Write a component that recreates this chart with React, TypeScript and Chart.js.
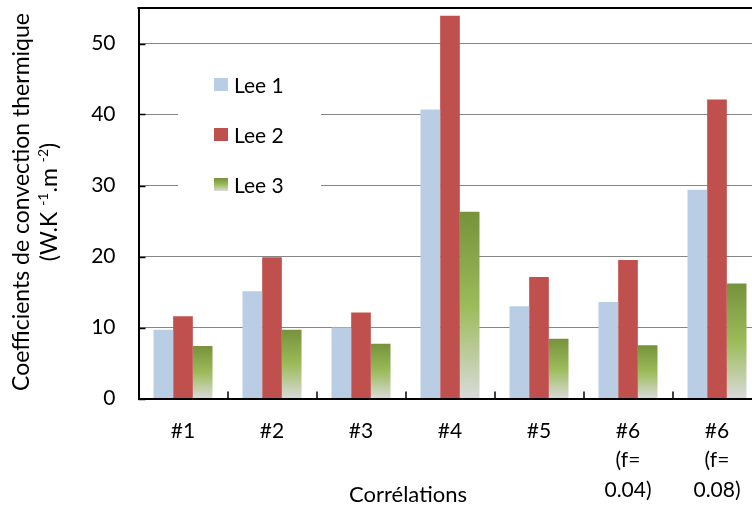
import React, { useEffect, useRef } from 'react';
import { Chart, registerables } from 'chart.js';

Chart.register(...registerables);

const categories: (string | string[])[] = ['#1', '#2', '#3', '#4', '#5', ['#6', '(f=', '0.04)'], ['#6', '(f=', '0.08)']];
const seriesNames = ['Lee 1', 'Lee 2', 'Lee 3'];
const lee1 = [9.7, 15.1, 10.0, 40.7, 13.0, 13.6, 29.4];
const lee2 = [11.6, 19.9, 12.1, 53.9, 17.1, 19.5, 42.1];
const lee3 = [7.4, 9.7, 7.7, 26.3, 8.4, 7.5, 16.2];
const yTickValues = [0, 10, 20, 30, 40, 50];
const yMin = 0;
const yMax = 55;
const yTitleLine1 = 'Coefficients de convection thermique';
const xTitle = 'Corrélations';

const FONT = 'Lato, "Open Sans", sans-serif';
const FS = 21;
const FS_YT = 23;
const FS_XT = 22;
const C_LEE1 = '#b9cde5';
const C_LEE2 = '#c0504d';

function greenGradient(ctx: CanvasRenderingContext2D, top: number, bottom: number) {
  const g = ctx.createLinearGradient(0, top, 0, bottom);
  g.addColorStop(0, '#76923c');
  g.addColorStop(0.5, '#9bbb59');
  g.addColorStop(1, '#dadada');
  return g;
}

const decorPlugin = {
  id: 'decor',
  afterDatasetsDraw(chart: any) {
    const ctx: CanvasRenderingContext2D = chart.ctx;
    const { chartArea } = chart;
    const y = chart.scales.y;
    const x = chart.scales.x;
    ctx.save();
    // top border
    ctx.strokeStyle = '#000';
    ctx.lineWidth = 2;
    ctx.beginPath();
    ctx.moveTo(chartArea.left - 1, chartArea.top);
    ctx.lineTo(chartArea.right, chartArea.top);
    ctx.stroke();
    // inside ticks y
    ctx.lineWidth = 1.5;
    yTickValues.forEach((v) => {
      const py = Math.round(y.getPixelForValue(v)) + 0.5;
      ctx.beginPath();
      ctx.moveTo(chartArea.left, py);
      ctx.lineTo(chartArea.left + 7, py);
      ctx.stroke();
    });
    // inside ticks x at category boundaries
    for (let i = 1; i < categories.length; i++) {
      const px = Math.round((x.getPixelForValue(i - 1) + x.getPixelForValue(i)) / 2);
      ctx.beginPath();
      ctx.moveTo(px, chartArea.bottom);
      ctx.lineTo(px, chartArea.bottom - 7);
      ctx.stroke();
    }
    // legend box
    ctx.fillStyle = '#fff';
    ctx.fillRect(178, 58, 143, 150);
    const legendYs = [85, 135, 185];
    ctx.font = `${FS}px ${FONT}`;
    ctx.textBaseline = 'middle';
    ctx.textAlign = 'left';
    seriesNames.forEach((name, i) => {
      const cy = legendYs[i];
      const bx = 214, by = cy - 7, bw = 14, bh = 13;
      if (i === 0) ctx.fillStyle = C_LEE1;
      else if (i === 1) ctx.fillStyle = C_LEE2;
      else ctx.fillStyle = greenGradient(ctx, by, by + bh);
      ctx.fillRect(bx, by, bw, bh);
      ctx.fillStyle = '#000';
      ctx.fillText(name, 234, cy + 1);
    });
    // x title
    ctx.font = `${FS_XT}px ${FONT}`;
    ctx.textAlign = 'center';
    ctx.fillText(xTitle, 408, 495);
    // y title
    ctx.font = `${FS_YT}px ${FONT}`;
    ctx.save();
    ctx.translate(22, 202);
    ctx.rotate(-Math.PI / 2);
    ctx.textAlign = 'center';
    ctx.fillText(yTitleLine1, 0, 0);
    ctx.restore();
    // y title line 2 with superscripts
    ctx.save();
    ctx.translate(50, 202);
    ctx.rotate(-Math.PI / 2);
    const parts: [string, boolean][] = [['(W.K ', false], ['-1', true], ['.m ', false], ['-2', true], [')', false]];
    const big = `${FS_YT}px ${FONT}`;
    const small = `${Math.round(FS_YT * 0.62)}px ${FONT}`;
    let total = 0;
    parts.forEach(([t, sup]) => {
      ctx.font = sup ? small : big;
      total += ctx.measureText(t).width;
    });
    let cx = -total / 2;
    ctx.textAlign = 'left';
    parts.forEach(([t, sup]) => {
      ctx.font = sup ? small : big;
      ctx.fillText(t, cx, sup ? -7 : 0);
      cx += ctx.measureText(t).width;
    });
    ctx.restore();
    ctx.restore();
  },
};

export default function App() {
  const ref = useRef<HTMLCanvasElement>(null);
  useEffect(() => {
    if (!ref.current) return;
    const chart = new Chart(ref.current, {
      type: 'bar',
      data: {
        labels: categories as any,
        datasets: [
          { label: seriesNames[0], data: lee1, backgroundColor: C_LEE1 },
          { label: seriesNames[1], data: lee2, backgroundColor: C_LEE2 },
          {
            label: seriesNames[2],
            data: lee3,
            backgroundColor: (c: any) => {
              const chart = c.chart;
              const ys = chart.scales && chart.scales.y;
              if (!ys || c.type !== 'data') return '#9bbb59';
              const top = ys.getPixelForValue(c.raw);
              const bottom = ys.getPixelForValue(0);
              if (!isFinite(top) || !isFinite(bottom)) return '#9bbb59';
              return greenGradient(chart.ctx, top, bottom);
            },
          },
        ],
      },
      options: {
        animation: false,
        responsive: false,
        devicePixelRatio: 1,
        events: [],
        layout: { padding: { left: 0, top: 8, right: 8.5, bottom: 0 } },
        datasets: { bar: { categoryPercentage: 0.663, barPercentage: 1 } },
        plugins: { legend: { display: false }, tooltip: { enabled: false }, title: { display: false } },
        scales: {
          x: {
            grid: { display: false, drawTicks: false },
            border: { display: true, color: '#000', width: 2 },
            ticks: {
              color: '#000',
              font: { family: FONT, size: FS, lineHeight: 1.4 },
              padding: 18,
              maxRotation: 0,
              autoSkip: false,
            },
            afterFit: (s: any) => {
              s.height = 108.5;
              s.paddingLeft = 0; s.paddingRight = 0; s.paddingTop = 0; s.paddingBottom = 0;
            },
          },
          y: {
            min: yMin,
            max: yMax,
            grid: { color: '#868686', lineWidth: 1, drawTicks: false },
            border: { display: true, color: '#000', width: 2 },
            ticks: {
              stepSize: 10,
              color: '#000',
              font: { family: FONT, size: FS },
              padding: 23,
            },
            afterBuildTicks: (s: any) => {
              s.ticks = yTickValues.map((v) => ({ value: v }));
            },
            afterFit: (s: any) => {
              s.width = 138.5;
              s.paddingLeft = 0; s.paddingRight = 0; s.paddingTop = 0; s.paddingBottom = 0;
            },
          },
        },
      },
      plugins: [decorPlugin],
    });
    return () => chart.destroy();
  }, []);
  return (
    <div style={{ position: 'fixed', left: 0, top: 0, width: 752, height: 507, overflow: 'hidden', background: '#fff' }}>
      <canvas ref={ref} width={770} height={507} style={{ display: 'block', width: 770, height: 507 }} />
    </div>
  );
}
